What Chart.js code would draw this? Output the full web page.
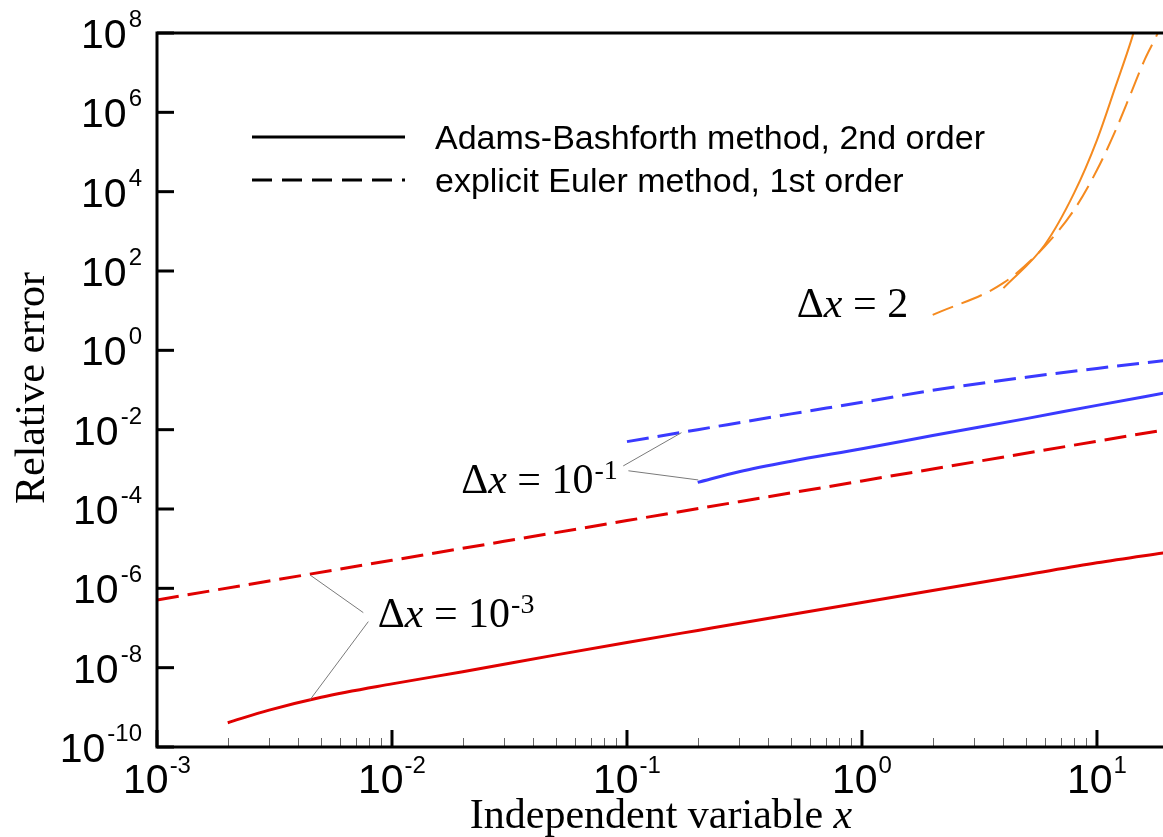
<!DOCTYPE html>
<html><head><meta charset="utf-8">
<script src="https://cdn.jsdelivr.net/npm/chart.js@4/dist/chart.umd.min.js"></script>
<style>html,body{margin:0;padding:0;background:#fff;overflow:hidden}canvas{display:block}</style>
</head><body>
<canvas id="c" width="1163" height="837"></canvas>
<script>
// ---------- data ----------
const xTickExps = [-3, -2, -1, 0, 1];
const yTickExps = [-10, -8, -6, -4, -2, 0, 2, 4, 6, 8];

// Δx = 1e-3, explicit Euler (red dashed)
const xEuler_1e3 = [0.001, 0.003, 0.01, 0.03, 0.1, 0.3, 1, 3, 10, 20];
const yEuler_1e3 = [5.1e-7, 1.53e-6, 5.1e-6, 1.53e-5, 5.1e-5, 1.53e-4, 5.1e-4, 1.53e-3, 5.1e-3, 1.02e-2];
// Δx = 1e-3, Adams-Bashforth (red solid)
const xAB_1e3 = [0.002, 0.003, 0.005, 0.01, 0.02, 0.05, 0.1, 0.2, 0.5, 1, 2, 5, 10, 20];
const yAB_1e3 = [4.1e-10, 8.5e-10, 1.8e-9, 3.9e-9, 7.9e-9, 2.1e-8, 4.3e-8, 8.7e-8, 2.2e-7, 4.4e-7, 8.8e-7, 2.2e-6, 4.4e-6, 8.1e-6];
// Δx = 0.1, explicit Euler (blue dashed)
const xEuler_1e1 = [0.1, 0.2, 0.5, 1, 2, 5, 10, 20];
const yEuler_1e1 = [5.0e-3, 1.0e-2, 2.5e-2, 4.9e-2, 9.8e-2, 0.21, 0.35, 0.56];
// Δx = 0.1, Adams-Bashforth (blue solid)
const xAB_1e1 = [0.2, 0.3, 0.5, 1, 2, 5, 10, 20];
const yAB_1e1 = [4.7e-4, 8.7e-4, 1.6e-3, 3.3e-3, 7.1e-3, 0.019, 0.041, 0.087];
// Δx = 2, explicit Euler (orange dashed)
const xEuler_2 = [2, 4, 6, 8, 10, 12, 14, 16, 18, 20];
const yEuler_2 = [7.8, 50, 420, 3.5e3, 3.5e4, 3.5e5, 3.2e6, 2.2e7, 9.0e7, 4.0e8];
// Δx = 2, Adams-Bashforth (orange solid)
const xAB_2 = [4, 6, 8, 10, 12, 14, 16];
const yAB_2 = [37, 460, 9.3e3, 2.0e5, 4.5e6, 6.6e7, 1.0e9];

const legendLabels = ['Adams-Bashforth method, 2nd order', 'explicit Euler method, 1st order'];
const xTitleText = 'Independent variable ';
const xTitleVar = 'x';
const yTitleText = 'Relative error';

// annotation labels: main number, superscript, anchor x, anchor y (baseline)
const annoLabels = [
  { num: '2',  sup: '',   x: 0.528,  y: 6.9 },
  { num: '10', sup: '-1', x: 0.0197, y: 2.5e-4 },
  { num: '10', sup: '-3', x: 0.0087, y: 1.06e-7 }
];
// leader lines [x1, y1, x2, y2] in data coordinates
const leaders = [
  [0.0964, 1.22e-3, 0.1706, 8.4e-3],
  [0.1014, 9.2e-4, 0.201, 5.4e-4],
  [0.00755, 2.44e-7, 0.00448, 2.17e-6],
  [0.00793, 1.45e-7, 0.00448, 1.55e-9]
];

// ---------- styles ----------
const RED = '#e00000', BLUE = '#3a3aff', ORANGE = '#f58a1f';
const DASH = [22, 9];
const SANS = '"Liberation Sans", Arial, sans-serif';
const SERIF = '"Liberation Serif", "Times New Roman", serif';

const pts = (xs, ys) => xs.map((v, i) => ({ x: v, y: ys[i] }));

const overlay = {
  id: 'overlay',
  afterDraw(chart) {
    const { ctx, chartArea: a, scales: { x, y } } = chart;
    ctx.save();
    ctx.strokeStyle = '#000';
    ctx.fillStyle = '#000';
    ctx.lineCap = 'butt';
    ctx.setLineDash([]);

    // minor x ticks
    ctx.lineWidth = 1;
    ctx.strokeStyle = '#666';
    xTickExps.forEach(e => {
      for (let m = 2; m <= 9; m++) {
        const v = m * Math.pow(10, e);
        if (v > x.max) continue;
        const px = Math.round(x.getPixelForValue(v)) + 0.5;
        ctx.beginPath(); ctx.moveTo(px, a.bottom); ctx.lineTo(px, a.bottom - 9); ctx.stroke();
      }
    });
    // major ticks
    ctx.strokeStyle = '#000';
    ctx.lineWidth = 3;
    xTickExps.forEach(e => {
      const px = x.getPixelForValue(Math.pow(10, e));
      ctx.beginPath(); ctx.moveTo(px, a.bottom); ctx.lineTo(px, a.bottom - 17); ctx.stroke();
    });
    yTickExps.forEach(e => {
      const py = y.getPixelForValue(Math.pow(10, e));
      ctx.beginPath(); ctx.moveTo(a.left, py); ctx.lineTo(a.left + 17, py); ctx.stroke();
    });
    // axis lines
    ctx.beginPath();
    ctx.moveTo(a.left - 1.5, a.top); ctx.lineTo(a.right + 2, a.top);
    ctx.moveTo(a.left, a.top - 1.5); ctx.lineTo(a.left, a.bottom + 1.5);
    ctx.moveTo(a.left - 1.5, a.bottom); ctx.lineTo(a.right + 2, a.bottom);
    ctx.stroke();

    // tick labels
    const mainF = '41px ' + SANS, supF = '24px ' + SANS;
    ctx.textBaseline = 'alphabetic';
    xTickExps.forEach(e => {
      const px = x.getPixelForValue(Math.pow(10, e));
      ctx.font = mainF; const w1 = ctx.measureText('10').width;
      ctx.font = supF; const w2 = ctx.measureText(String(e)).width;
      const left = px - (w1 + w2 + 1) / 2;
      ctx.textAlign = 'left';
      ctx.font = mainF; ctx.fillText('10', left, a.bottom + 46);
      ctx.font = supF; ctx.fillText(String(e), left + w1 + 1, a.bottom + 26);
    });
    yTickExps.forEach(e => {
      const py = y.getPixelForValue(Math.pow(10, e));
      const right = a.left - 15;
      ctx.font = supF; const w2 = ctx.measureText(String(e)).width;
      ctx.textAlign = 'right';
      ctx.fillText(String(e), right, py - 6);
      ctx.font = mainF; ctx.fillText('10', right - w2 - 2, py + 15);
    });

    // axis titles
    ctx.font = '42px ' + SERIF;
    const wT = ctx.measureText(xTitleText).width;
    ctx.font = 'italic 42px ' + SERIF;
    const wV = ctx.measureText(xTitleVar).width;
    const cx = 661, tl = cx - (wT + wV) / 2;
    ctx.textAlign = 'left';
    ctx.font = '42px ' + SERIF; ctx.fillText(xTitleText, tl, 828);
    ctx.font = 'italic 42px ' + SERIF; ctx.fillText(xTitleVar, tl + wT, 828);

    ctx.save();
    ctx.translate(44, 388);
    ctx.rotate(-Math.PI / 2);
    ctx.textAlign = 'center';
    ctx.font = '42px ' + SERIF;
    ctx.fillText(yTitleText, 0, 0);
    ctx.restore();

    // legend
    ctx.lineWidth = 3;
    ctx.strokeStyle = '#000';
    const lx1 = 252, lx2 = 405, ly = [137, 180];
    ctx.setLineDash([]);
    ctx.beginPath(); ctx.moveTo(lx1, ly[0]); ctx.lineTo(lx2, ly[0]); ctx.stroke();
    ctx.setLineDash([20, 10]);
    ctx.beginPath(); ctx.moveTo(lx1, ly[1]); ctx.lineTo(lx2, ly[1]); ctx.stroke();
    ctx.setLineDash([]);
    ctx.font = '34px ' + SANS;
    ctx.textAlign = 'left';
    legendLabels.forEach((t, i) => ctx.fillText(t, 435, ly[i] + 12));

    // leader lines
    ctx.lineWidth = 1;
    ctx.strokeStyle = '#7a7a7a';
    leaders.forEach(l => {
      ctx.beginPath();
      ctx.moveTo(x.getPixelForValue(l[0]), y.getPixelForValue(l[1]));
      ctx.lineTo(x.getPixelForValue(l[2]), y.getPixelForValue(l[3]));
      ctx.stroke();
    });

    // annotation labels
    ctx.fillStyle = '#000';
    annoLabels.forEach(an => {
      let px = x.getPixelForValue(an.x);
      const py = y.getPixelForValue(an.y);
      ctx.font = '42px ' + SERIF;
      ctx.fillText('\u0394', px, py); px += ctx.measureText('\u0394').width;
      ctx.font = 'italic 42px ' + SERIF;
      ctx.fillText('x', px, py); px += ctx.measureText('x').width;
      ctx.font = '42px ' + SERIF;
      const mid = ' = ' + an.num;
      ctx.fillText(mid, px, py); px += ctx.measureText(mid).width;
      if (an.sup) {
        ctx.font = '28px ' + SERIF;
        ctx.fillText(an.sup, px + 1, py - 14);
      }
    });
    ctx.restore();
  }
};

new Chart(document.getElementById('c'), {
  type: 'line',
  data: {
    datasets: [
      { data: pts(xEuler_1e3, yEuler_1e3), borderColor: RED, borderWidth: 3, borderDash: DASH },
      { data: pts(xAB_1e3, yAB_1e3), borderColor: RED, borderWidth: 3, cubicInterpolationMode: 'monotone' },
      { data: pts(xEuler_1e1, yEuler_1e1), borderColor: BLUE, borderWidth: 3, borderDash: DASH, cubicInterpolationMode: 'monotone' },
      { data: pts(xAB_1e1, yAB_1e1), borderColor: BLUE, borderWidth: 3, cubicInterpolationMode: 'monotone' },
      { data: pts(xEuler_2, yEuler_2), borderColor: ORANGE, borderWidth: 2, borderDash: DASH, cubicInterpolationMode: 'monotone' },
      { data: pts(xAB_2, yAB_2), borderColor: ORANGE, borderWidth: 2, cubicInterpolationMode: 'monotone' }
    ]
  },
  options: {
    responsive: false,
    animation: false,
    devicePixelRatio: 1,
    layout: { padding: { top: 33, right: 0, left: 0, bottom: 0 } },
    plugins: { legend: { display: false }, tooltip: { enabled: false } },
    elements: { point: { radius: 0, hoverRadius: 0 }, line: { tension: 0, fill: false } },
    scales: {
      x: {
        type: 'logarithmic', min: 0.001, max: 19.1,
        grid: { display: false }, border: { display: false }, ticks: { display: false },
        afterFit(s) { s.height = 90; }
      },
      y: {
        type: 'logarithmic', min: 1e-10, max: 1e8,
        grid: { display: false }, border: { display: false }, ticks: { display: false },
        afterFit(s) { s.width = 157; }
      }
    }
  },
  plugins: [overlay]
});
</script>
</body></html>
